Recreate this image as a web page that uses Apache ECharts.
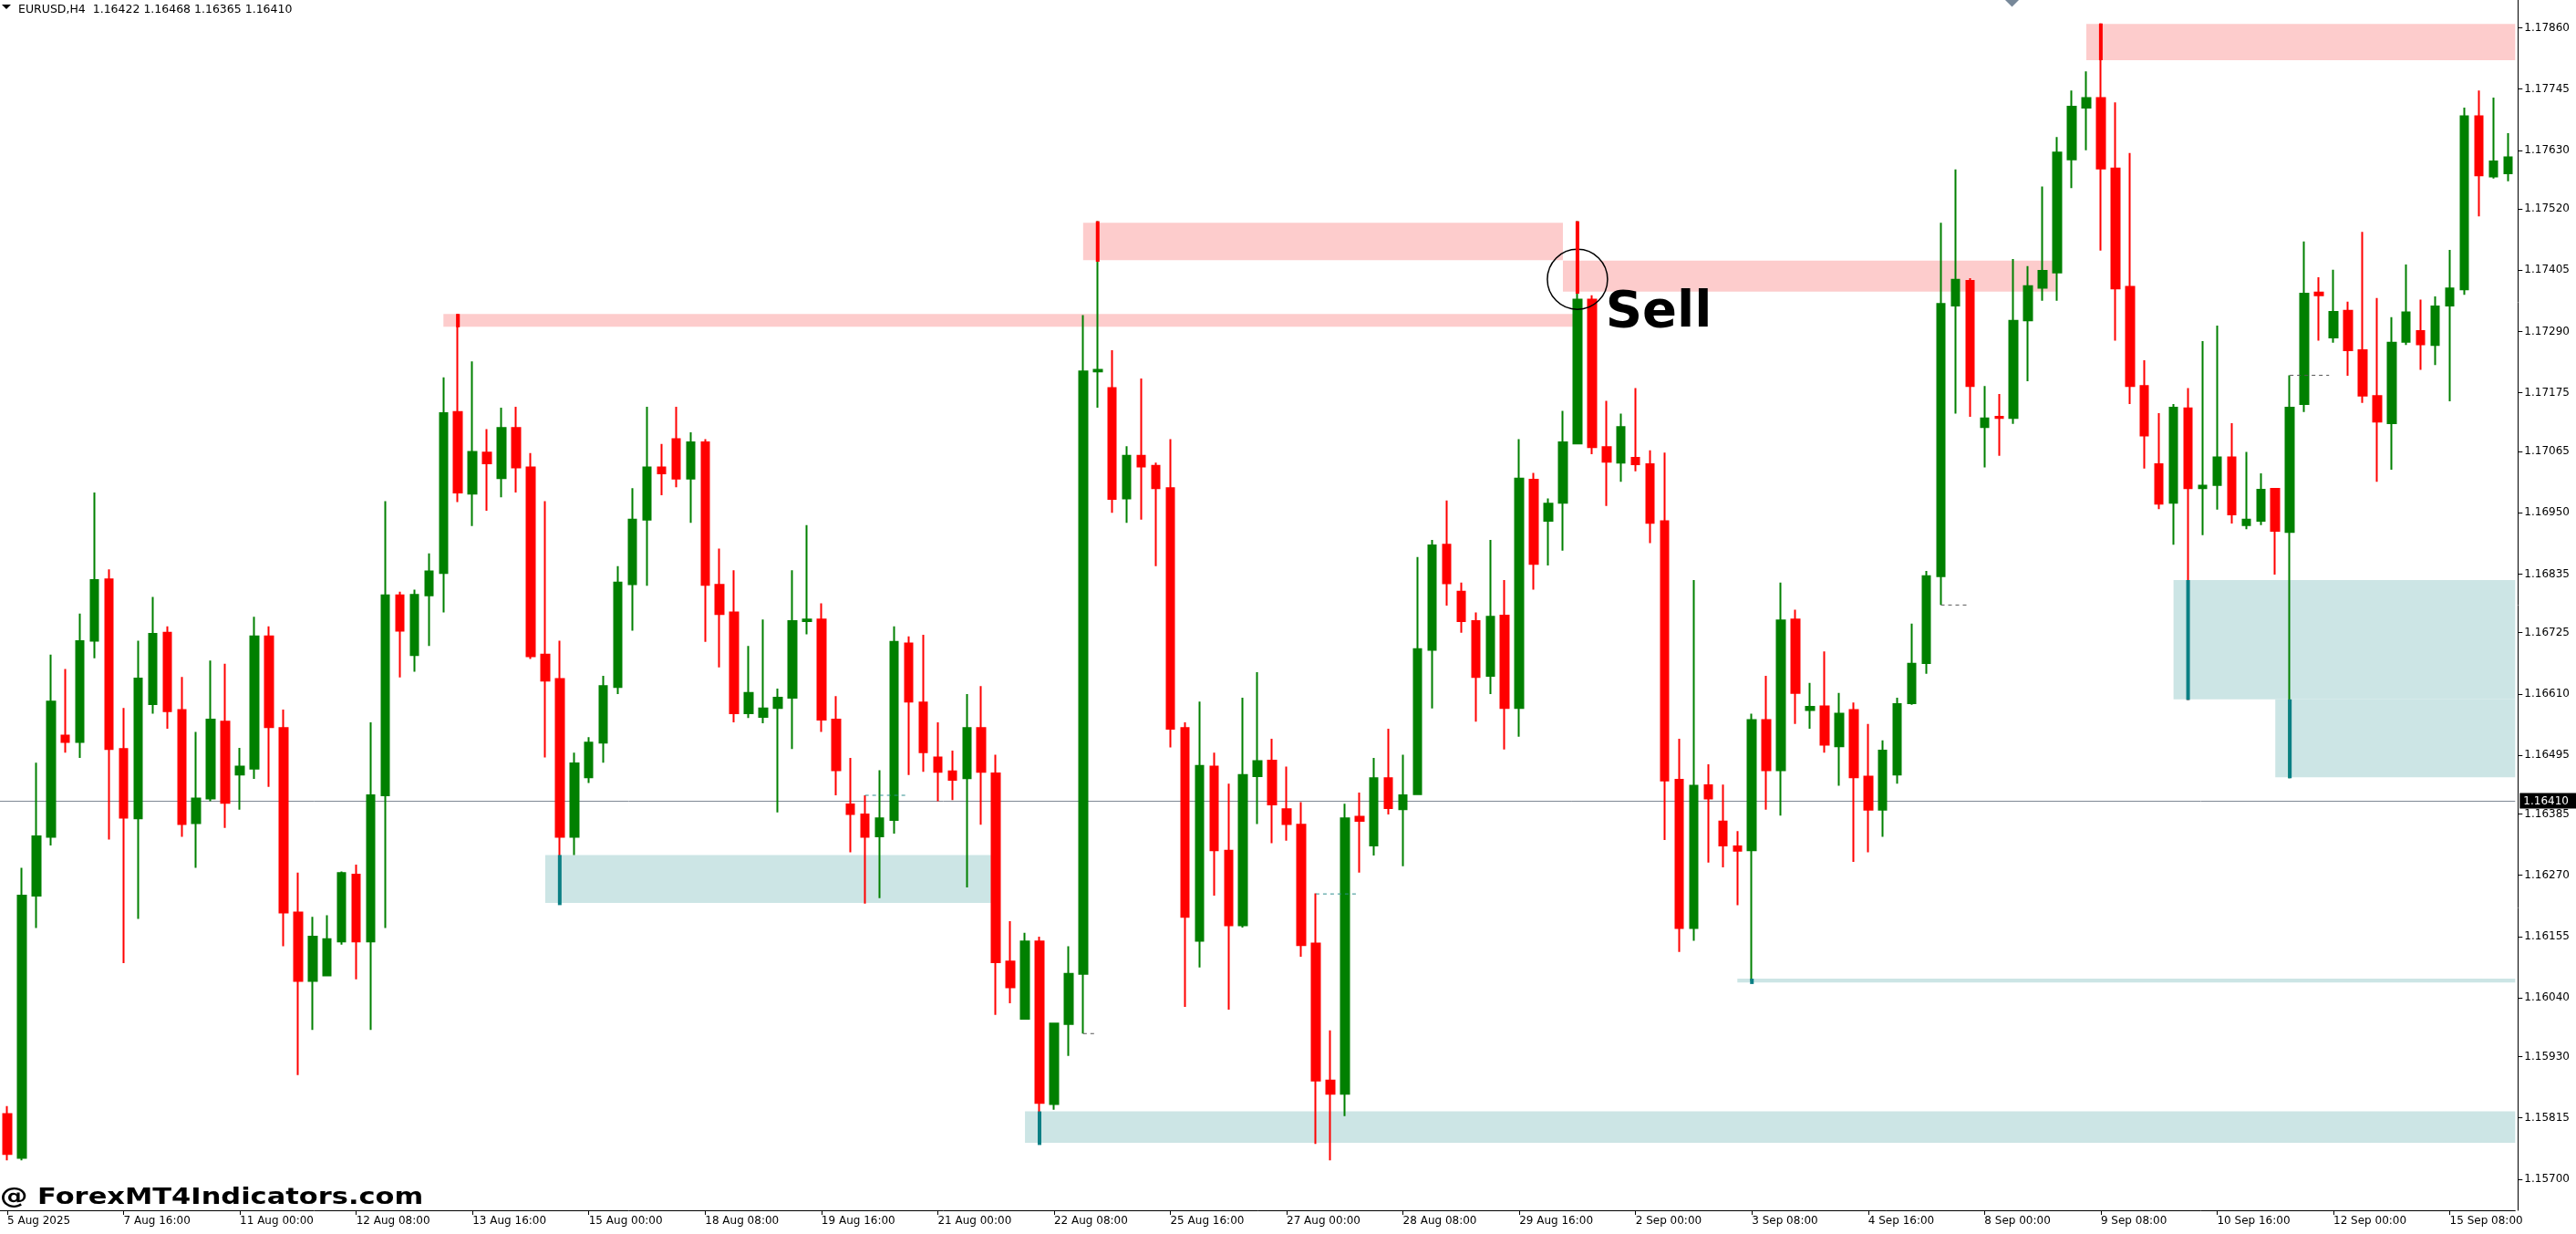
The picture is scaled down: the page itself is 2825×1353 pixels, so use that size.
<!DOCTYPE html>
<html>
<head>
<meta charset="utf-8">
<script src="https://cdn.jsdelivr.net/npm/echarts@6/dist/echarts.min.js"></script>
<style>
html,body{margin:0;padding:0;background:#fff;overflow:hidden;}
#chart{width:2825px;height:1353px;}
</style>
</head>
<body>
<div id="chart"></div>
<script>
// ---------- DATA ----------
const headerText = 'EURUSD,H4  1.16422 1.16468 1.16365 1.16410';
const watermarkText = '@ ForexMT4Indicators.com';
const signalText = 'Sell';
const lastPrice = [1.16410];
const firstBarTime = Date.UTC(2025, 7, 6, 8); // 6 Aug 2025 08:00, H4 bars, no weekend bars

const xTickLabels = ['5 Aug 2025','7 Aug 16:00','11 Aug 00:00','12 Aug 08:00','13 Aug 16:00','15 Aug 00:00',
  '18 Aug 08:00','19 Aug 16:00','21 Aug 00:00','22 Aug 08:00','25 Aug 16:00','27 Aug 00:00','28 Aug 08:00',
  '29 Aug 16:00','2 Sep 00:00','3 Sep 08:00','4 Sep 16:00','8 Sep 00:00','9 Sep 08:00','10 Sep 16:00',
  '12 Sep 00:00','15 Sep 08:00'];

const yTickValues = [1.17860,1.17745,1.17630,1.17520,1.17405,1.17290,1.17175,1.17065,1.16950,1.16835,
  1.16725,1.16610,1.16495,1.16385,1.16270,1.16155,1.16040,1.15930,1.15815,1.15700];

const opens = [
1.15822,1.15740,1.16232,1.16342,1.16532,1.16520,1.16710,1.16825,1.16507,1.16377,
1.16591,1.16725,1.16580,1.16368,1.16414,1.16558,1.16459,1.16470,1.16718,1.16546,
1.16200,1.16072,1.16082,1.16146,1.16271,1.16146,1.16420,1.16795,1.16683,1.16795,
1.16837,1.17139,1.16986,1.17063,1.17015,1.17109,1.17035,1.16684,1.16638,1.16342,
1.16454,1.16519,1.16623,1.16816,1.16937,1.17035,1.17088,1.17014,1.17082,1.16815,
1.16763,1.16574,1.16567,1.16584,1.16603,1.16747,1.16750,1.16562,1.16403,1.16384,
1.16343,1.16374,1.16705,1.16594,1.16491,1.16465,1.16452,1.16546,1.16461,1.16108,
1.16001,1.16146,1.15841,1.15991,1.16085,1.17215,1.17184,1.16977,1.17057,1.17038,
1.16996,1.16546,1.16147,1.16474,1.16316,1.16176,1.16456,1.16485,1.16394,1.16365,
1.16142,1.15885,1.15860,1.16380,1.16326,1.16452,1.16394,1.16422,1.16693,1.16890,
1.16802,1.16747,1.16644,1.16757,1.16584,1.17012,1.16935,1.16969,1.17080,1.17350,
1.17073,1.17044,1.17053,1.17041,1.16934,1.16449,1.16171,1.16439,1.16371,1.16324,
1.16317,1.16561,1.16467,1.16750,1.16580,1.16587,1.16512,1.16580,1.16455,1.16393,
1.16459,1.16593,1.16668,1.16831,1.17339,1.17385,1.17111,1.17130,1.17128,1.17311,
1.17372,1.17401,1.17613,1.17710,1.17728,1.17596,1.17374,1.17188,1.17041,1.16969,
1.17146,1.16996,1.17002,1.17054,1.16927,1.16935,1.16995,1.16914,1.17154,1.17363,
1.17279,1.17329,1.17255,1.17169,1.17118,1.17271,1.17291,1.17265,1.17339,1.17369,
1.17694,1.17581,1.17587];

const closes = [
1.15747,1.16232,1.16343,1.16596,1.16520,1.16709,1.16824,1.16507,1.16378,1.16639,
1.16723,1.16578,1.16366,1.16414,1.16562,1.16406,1.16474,1.16718,1.16548,1.16200,
1.16072,1.16155,1.16150,1.16274,1.16146,1.16420,1.16795,1.16729,1.16796,1.16840,
1.17137,1.16988,1.17064,1.17043,1.17109,1.17035,1.16681,1.16635,1.16342,1.16480,
1.16519,1.16625,1.16819,1.16937,1.17035,1.17024,1.17014,1.17082,1.16815,1.16760,
1.16574,1.16612,1.16583,1.16603,1.16747,1.16750,1.16562,1.16467,1.16385,1.16342,
1.16377,1.16708,1.16596,1.16501,1.16464,1.16449,1.16546,1.16464,1.16107,1.16060,
1.16146,1.15843,1.15992,1.16085,1.17215,1.17218,1.16976,1.17057,1.17037,1.16996,
1.16545,1.16192,1.16475,1.16317,1.16176,1.16458,1.16484,1.16403,1.16366,1.16139,
1.15885,1.15860,1.16377,1.16372,1.16452,1.16396,1.16420,1.16694,1.16889,1.16818,
1.16747,1.16642,1.16755,1.16584,1.17014,1.16854,1.16967,1.17082,1.17350,1.17073,
1.17046,1.17111,1.17041,1.16931,1.16448,1.16171,1.16438,1.16414,1.16326,1.16316,
1.16561,1.16467,1.16748,1.16612,1.16586,1.16515,1.16573,1.16454,1.16393,1.16504,
1.16591,1.16667,1.16831,1.17342,1.17387,1.17188,1.17127,1.17128,1.17310,1.17375,
1.17404,1.17626,1.17712,1.17728,1.17596,1.17371,1.17188,1.17095,1.16967,1.17147,
1.16996,1.17001,1.17054,1.16947,1.16937,1.16993,1.16916,1.17147,1.17361,1.17358,
1.17327,1.17255,1.17170,1.17121,1.17269,1.17326,1.17266,1.17337,1.17371,1.17694,
1.17583,1.17609,1.17617];

const lows = [
1.15735,1.15735,1.16171,1.16326,1.16500,1.16490,1.16677,1.16337,1.16105,1.16188,
1.16573,1.16545,1.16342,1.16284,1.16409,1.16359,1.16393,1.16451,1.16436,1.16137,
1.15895,1.15980,1.16082,1.16140,1.16075,1.15980,1.16171,1.16641,1.16652,1.16700,
1.16763,1.16970,1.16925,1.16954,1.16979,1.16988,1.16676,1.16491,1.16217,1.16308,
1.16443,1.16481,1.16610,1.16729,1.16813,1.16983,1.16998,1.16931,1.16708,1.16660,
1.16557,1.16565,1.16555,1.16388,1.16507,1.16722,1.16539,1.16420,1.16313,1.16217,
1.16227,1.16348,1.16458,1.16464,1.16409,1.16411,1.16247,1.16365,1.16008,1.16030,
1.16001,1.15767,1.15830,1.15931,1.15973,1.17147,1.16950,1.16931,1.16937,1.16850,
1.16510,1.16023,1.16097,1.16232,1.16018,1.16172,1.16366,1.16330,1.16335,1.16117,
1.15766,1.15735,1.15818,1.16275,1.16307,1.16384,1.16287,1.16422,1.16583,1.16776,
1.16725,1.16558,1.16610,1.16506,1.16530,1.16806,1.16851,1.16879,1.17080,1.17060,
1.16963,1.17008,1.17028,1.16893,1.16336,1.16126,1.16147,1.16294,1.16285,1.16214,
1.16072,1.16393,1.16382,1.16554,1.16545,1.16500,1.16438,1.16295,1.16313,1.16342,
1.16442,1.16590,1.16648,1.16777,1.17136,1.17130,1.17035,1.17057,1.17117,1.17197,
1.17348,1.17348,1.17559,1.17630,1.17442,1.17273,1.17154,1.17033,1.16957,1.16890,
1.16599,1.16908,1.16956,1.16930,1.16919,1.16927,1.16834,1.16452,1.17139,1.17273,
1.17269,1.17207,1.17156,1.17008,1.17031,1.17265,1.17218,1.17227,1.17159,1.17359,
1.17506,1.17577,1.17572];

const highs = [
1.15837,1.16284,1.16481,1.16684,1.16657,1.16761,1.16988,1.16844,1.16584,1.16710,
1.16792,1.16737,1.16642,1.16539,1.16673,1.16667,1.16509,1.16755,1.16737,1.16581,
1.16275,1.16192,1.16195,1.16277,1.16290,1.16557,1.16972,1.16802,1.16806,1.16874,
1.17204,1.17323,1.17234,1.17107,1.17147,1.17149,1.17062,1.16972,1.16710,1.16500,
1.16529,1.16644,1.16850,1.16996,1.17149,1.17079,1.17149,1.17101,1.17088,1.16883,
1.16842,1.16700,1.16750,1.16620,1.16842,1.16927,1.16780,1.16606,1.16490,1.16420,
1.16467,1.16737,1.16718,1.16721,1.16557,1.16504,1.16610,1.16625,1.16496,1.16184,
1.16162,1.16155,1.15992,1.16137,1.17321,1.17497,1.17255,1.17075,1.17202,1.17044,
1.17088,1.16557,1.16596,1.16500,1.16442,1.16603,1.16651,1.16526,1.16474,1.16407,
1.16236,1.15979,1.16404,1.16425,1.16490,1.16545,1.16496,1.16867,1.16899,1.16973,
1.16819,1.16763,1.16899,1.16824,1.17088,1.17025,1.16977,1.17141,1.17497,1.17358,
1.17160,1.17136,1.17184,1.17067,1.17063,1.16526,1.16824,1.16478,1.16440,1.16353,
1.16573,1.16644,1.16819,1.16768,1.16631,1.16690,1.16612,1.16594,1.16554,1.16523,
1.16603,1.16742,1.16841,1.17494,1.17594,1.17390,1.17188,1.17173,1.17426,1.17413,
1.17562,1.17655,1.17742,1.17778,1.17868,1.17720,1.17625,1.17236,1.17137,1.17154,
1.17184,1.17272,1.17301,1.17118,1.17064,1.17024,1.16995,1.17208,1.17459,1.17392,
1.17406,1.17346,1.17477,1.17353,1.17317,1.17416,1.17350,1.17356,1.17443,1.17710,
1.17742,1.17729,1.17662];

// zones: [startBar, endBar, topPrice, bottomPrice]  (bar = index in the arrays above)
const supplyZones = [
  [30, 107.73, 1.17323, 1.17299],
  [74, 107, 1.17494, 1.17424],
  [107, 141, 1.17423, 1.17365],
  [143, 176, 1.17867, 1.17799]];
const demandZones = [
  [37, 67.67, 1.16308, 1.16218],
  [70, 176, 1.15827, 1.15768],
  [119, 176, 1.16076, 1.16069],
  [149, 176, 1.16824, 1.16600],
  [156, 176, 1.16600, 1.16454]];
// source-bar markers: [bar, fromPrice, toPrice]
const supplyMarkers = [[31, 1.17323, 1.17298], [75, 1.17497, 1.17421], [108, 1.17497, 1.17361], [144, 1.17868, 1.17799]];
const demandMarkers = [[38, 1.16308, 1.16214], [71, 1.15827, 1.15764], [120, 1.16076, 1.16066], [150, 1.16824, 1.16599], [157, 1.16600, 1.16452]];
// short dashed levels: [startBar, endBar, price]
const tealDashes = [[59, 61.8, 1.16420], [90, 92.8, 1.16235]];
const grayDashes = [[74, 74.9, 1.15973], [133, 135, 1.16777], [157, 159.7, 1.17208]];
// signal circle: [bar, price]
const signalPoint = [108, 1.17388];

// ---------- BUILD ----------
const MON = ['Jan','Feb','Mar','Apr','May','Jun','Jul','Aug','Sep','Oct','Nov','Dec'];
const categories = [];
(function () {
  let t = firstBarTime;
  while (categories.length < opens.length) {
    const d = new Date(t);
    const wd = d.getUTCDay();
    if (wd !== 0 && wd !== 6) {
      const hh = String(d.getUTCHours()).padStart(2, '0');
      categories.push(d.getUTCDate() + ' ' + MON[d.getUTCMonth()] + ' ' + hh + ':00');
    }
    t += 4 * 3600 * 1000;
  }
})();
const candles = opens.map((o, i) => [o, closes[i], lows[i], highs[i]]);
const N = candles.length;

const FONT = 'DejaVu Sans';
const chart = echarts.init(document.getElementById('chart'), null, { renderer: 'canvas' });

function zoneSeries(data, color) {
  return {
    type: 'custom', xAxisIndex: 1, yAxisIndex: 0, silent: true, z: 1,
    encode: { x: [0, 1], y: [2, 3] }, data,
    renderItem(params, api) {
      const p0 = api.coord([api.value(0), api.value(2)]);
      const p1 = api.coord([api.value(1), api.value(3)]);
      const cs = params.coordSys;
      const shape = echarts.graphic.clipRectByRect(
        { x: p0[0], y: p0[1], width: p1[0] - p0[0], height: p1[1] - p0[1] },
        { x: cs.x, y: cs.y, width: cs.width, height: cs.height });
      return shape ? { type: 'rect', shape, style: { fill: color } } : null;
    }
  };
}
function markerSeries(data, color) {
  return {
    type: 'custom', xAxisIndex: 1, yAxisIndex: 0, silent: true, z: 5,
    encode: { x: 0, y: [1, 2] }, data,
    renderItem(params, api) {
      const a = api.coord([api.value(0), api.value(1)]);
      const b = api.coord([api.value(0), api.value(2)]);
      return { type: 'rect', shape: { x: a[0] - 2, y: a[1], width: 4, height: b[1] - a[1] }, style: { fill: color } };
    }
  };
}
function dashSeries(data, color) {
  return {
    type: 'custom', xAxisIndex: 1, yAxisIndex: 0, silent: true, z: 4,
    encode: { x: [0, 1], y: 2 }, data,
    renderItem(params, api) {
      const a = api.coord([api.value(0), api.value(2)]);
      const b = api.coord([api.value(1), api.value(2)]);
      return { type: 'line', shape: { x1: a[0], y1: a[1], x2: b[0], y2: b[1] },
        style: { stroke: color, lineWidth: 1, lineDash: [4, 4] } };
    }
  };
}
// current bid line + price box on the axis
const priceLineSeries = {
  type: 'custom', xAxisIndex: 1, yAxisIndex: 0, silent: true, z: 2, clip: false,
  encode: { y: 0 }, data: lastPrice.map(v => [v]),
  renderItem(params, api) {
    const v = api.value(0);
    const y = Math.round(api.coord([0, v])[1]) + 0.5;
    const cs = params.coordSys;
    const right = cs.x + cs.width;
    return {
      type: 'group',
      children: [
        { type: 'line', shape: { x1: 0, y1: y, x2: right, y2: y }, style: { stroke: '#7f8894', lineWidth: 1 } },
        { type: 'rect', shape: { x: right + 5, y: y - 9, width: 70, height: 17 }, style: { fill: '#000' } },
        { type: 'text', x: right + 9, y: y, style: { text: v.toFixed(5), fill: '#fff', font: '12px "DejaVu Sans"', verticalAlign: 'middle' } }
      ]
    };
  }
};

const option = {
  animation: false,
  backgroundColor: '#ffffff',
  title: {
    text: headerText, left: 20, top: 4, padding: 0,
    textStyle: { fontFamily: FONT, fontSize: 12.5, fontWeight: 'normal', color: '#000' }
  },
  graphic: [
    { type: 'polygon', shape: { points: [[2, 5], [12, 5], [7, 10]] }, style: { fill: '#000' }, z: 100 },
    { type: 'polygon', shape: { points: [[2199, 0], [2214, 0], [2206.5, 7.5]] }, style: { fill: '#778899' }, z: 100 },
    { type: 'text', x: 0, y: 1314, scaleX: 1.27, z: 100,
      style: { text: watermarkText, font: 'bold 24px "DejaVu Sans"', fill: '#000', verticalAlign: 'middle' } }
  ],
  grid: { left: -9.7, right: 66.7, top: 0, bottom: 26, containLabel: false },
  xAxis: [{
    type: 'category', data: categories, boundaryGap: true,
    axisLine: { show: true, onZero: false, lineStyle: { color: '#000', width: 1 } },
    axisTick: { show: true, alignWithLabel: true, length: 5, interval: (i) => i % 8 === 0, lineStyle: { color: '#000' } },
    axisLabel: {
      interval: (i) => i % 8 === 0,
      formatter: (v, i) => xTickLabels[Math.round(i / 8)] || '',
      align: 'left', margin: 6, fontSize: 12, fontFamily: FONT, color: '#000'
    },
    splitLine: { show: false }
  }, {
    type: 'value', min: -0.5, max: N - 0.5, show: false
  }],
  yAxis: [{
    type: 'value', position: 'right', offset: 3, scale: true,
    min: 1.156415, max: 1.17912,
    axisLine: { show: true, onZero: false, lineStyle: { color: '#000', width: 1 } },
    axisTick: { show: true, length: 5, customValues: yTickValues, lineStyle: { color: '#000' } },
    axisLabel: { customValues: yTickValues, formatter: (v) => Number(v).toFixed(5), margin: 7,
      fontSize: 12, fontFamily: FONT, color: '#000' },
    splitLine: { show: false }
  }],
  series: [
    zoneSeries(supplyZones, '#FDCCCC'),
    zoneSeries(demandZones, '#CCE5E5'),
    priceLineSeries,
    {
      type: 'candlestick', xAxisIndex: 0, yAxisIndex: 0, z: 3,
      data: candles, barWidth: 9,
      itemStyle: { color: '#008000', color0: '#FF0000', borderColor: '#008000', borderColor0: '#FF0000', borderWidth: 2 },
      emphasis: { disabled: true },
      markPoint: {
        silent: true, animation: false,
        data: [{
          coord: signalPoint, symbol: 'circle', symbolSize: 66,
          itemStyle: { color: 'rgba(0,0,0,0)', borderColor: '#000', borderWidth: 1.5 },
          label: { show: true, position: 'right', distance: 0, offset: [-3, 37], formatter: signalText,
            fontSize: 56, fontWeight: 'bold', fontFamily: FONT, color: '#000' }
        }]
      }
    },
    dashSeries(tealDashes, '#2f8f8f'),
    dashSeries(grayDashes, '#555555'),
    markerSeries(supplyMarkers, '#FF0000'),
    markerSeries(demandMarkers, '#0a7f84')
  ]
};
chart.setOption(option);
</script>
</body>
</html>
